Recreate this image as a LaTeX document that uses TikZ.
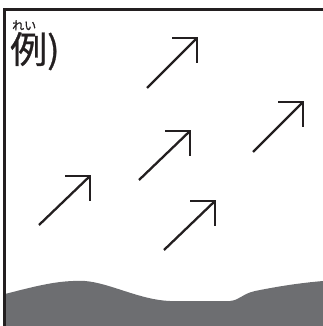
\documentclass[tikz,border=0pt]{standalone}
\usepackage{fontspec}
\newfontfamily\jpfont{Noto Sans CJK JP}
\newfontfamily\jpheavy[FakeBold=0.8]{Noto Sans CJK JP}
\definecolor{ink}{HTML}{231F20}
\definecolor{ground}{HTML}{6D6E71}
\usetikzlibrary{positioning}

\begin{document}
\begin{tikzpicture}[
    x=1pt,y=-1pt,
    frame/.style={draw=ink,line width=2.6pt},
    wind/.style={draw=ink,line width=2.3pt,miter limit=10},
    lbl/.style={inner sep=0pt,text=ink},
  ]
    \useasboundingbox (0,0) rectangle (323,326);

    % ground
    \fill[ground] (5,294) .. controls (40,285) and (60,280) .. (85,281)
      .. controls (110,283) and (140,300) .. (170,301) -- (230,301)
      .. controls (240,300) and (242,294) .. (255,291)
      .. controls (280,286) and (300,283) .. (323,281)
      -- (323,326) -- (5,326) -- cycle;

    % frame
    \draw[frame] (4.3,326) -- (4.3,9.6) -- (323,9.6);

    % label
    \node[lbl,anchor=base west] (rei) at (10,63) {\jpheavy\fontsize{37}{37}\selectfont 例)};
    \node[lbl,anchor=base west] (ruby) at (12,30) {\jpheavy\fontsize{12}{12}\selectfont れい};

    % wind arrows
    \coordinate (t1) at (147,88);  \coordinate (h1) at (197,38);
    \coordinate (t2) at (253,152); \coordinate (h2) at (303,102);
    \coordinate (t3) at (139,180); \coordinate (h3) at (190,131);
    \coordinate (t4) at (39,225);  \coordinate (h4) at (90,176);
    \coordinate (t5) at (164,250); \coordinate (h5) at (215,201);

    \draw[wind] (t1) -- (h1);
    \draw[wind] ([xshift=-25pt]h1) -- (h1) -- ([yshift=-25pt]h1);
    \draw[wind] (t2) -- (h2);
    \draw[wind] ([xshift=-25pt]h2) -- (h2) -- ([yshift=-25pt]h2);
    \draw[wind] (t3) -- (h3);
    \draw[wind] ([xshift=-25pt]h3) -- (h3) -- ([yshift=-25pt]h3);
    \draw[wind] (t4) -- (h4);
    \draw[wind] ([xshift=-25pt]h4) -- (h4) -- ([yshift=-25pt]h4);
    \draw[wind] (t5) -- (h5);
    \draw[wind] ([xshift=-25pt]h5) -- (h5) -- ([yshift=-25pt]h5);
  \end{tikzpicture}
\end{document}
